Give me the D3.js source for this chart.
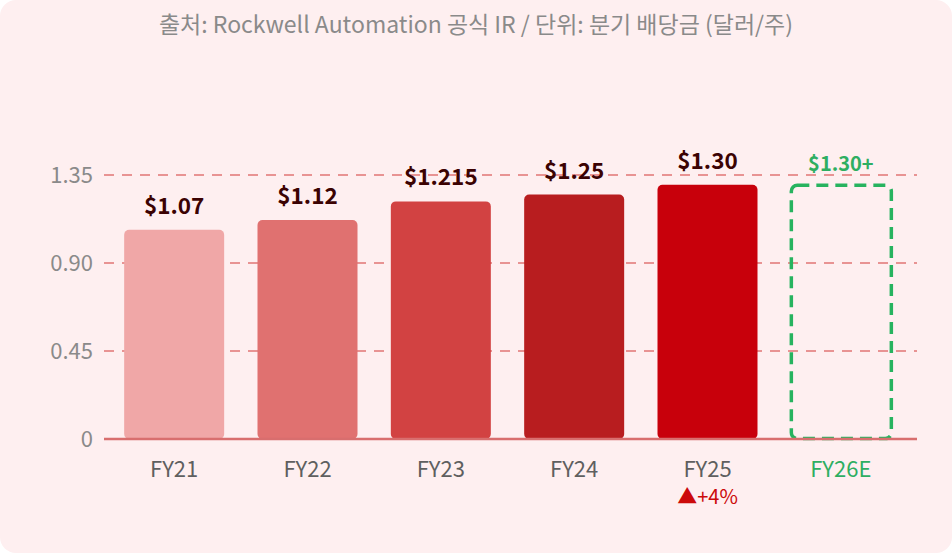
<!DOCTYPE html>
<html><head><meta charset="utf-8">
<script src="https://cdn.jsdelivr.net/npm/d3@7"></script>
<style>
html,body{margin:0;padding:0;background:#fff;}
svg{display:block;font-family:"Noto Sans CJK KR","Noto Sans",sans-serif;}
</style></head>
<body>
<svg id="c" width="952" height="553"></svg>
<script>
const categories = ["FY21","FY22","FY23","FY24","FY25","FY26E"];
const values = [1.07, 1.12, 1.215, 1.25, 1.30, 1.30];
const valueLabels = ["$1.07","$1.12","$1.215","$1.25","$1.30","$1.30+"];
const barColors = ["#f0a7a7","#e07170","#d24242","#b81d1f","#c8000b", null];
const yTicks = [0, 0.45, 0.90, 1.35];
const yTickLabels = ["0","0.45","0.90","1.35"];
const title = "출처: Rockwell Automation 공식 IR / 단위: 분기 배당금 (달러/주)";
const growthNote = "▲+4%";

const svg = d3.select("#c");
svg.append("rect").attr("x",0).attr("y",0).attr("width",952).attr("height",553)
  .attr("rx",16).attr("fill","#feeff0");

svg.append("text").attr("x",476).attr("y",33).attr("text-anchor","middle")
  .attr("font-size",23).attr("fill","#8a8a8a").text(title);

const x = d3.scaleBand().domain(categories).range([107.5,907.5]).paddingInner(0.25).paddingOuter(0.125);
const y = d3.scaleLinear().domain([0,1.35]).range([439,175]);

// grid
svg.append("g").selectAll("line").data(yTicks.filter(d=>d>0)).join("line")
  .attr("x1",104).attr("x2",917).attr("y1",d=>y(d)).attr("y2",d=>y(d))
  .attr("stroke","#e89393").attr("stroke-width",2).attr("stroke-dasharray","10,8");

// y labels
svg.append("g").selectAll("text").data(yTicks).join("text")
  .attr("x",93).attr("y",d=>y(d)).attr("dy","0.35em").attr("text-anchor","end")
  .attr("font-size",22).attr("fill","#8a8a8a").text((d,i)=>yTickLabels[i]);

// bars
const bw = x.bandwidth();
svg.append("g").selectAll("rect").data(values.slice(0,5)).join("rect")
  .attr("x",(d,i)=>x(categories[i])).attr("y",d=>y(d))
  .attr("width",bw).attr("height",d=>y(0)-y(d)).attr("rx",5)
  .attr("fill",(d,i)=>barColors[i]);

// dashed estimate bar
const ei = 5;
svg.append("rect").attr("x",x(categories[ei])+0.5).attr("y",y(values[ei])+0.5)
  .attr("width",bw).attr("height",y(0)-y(values[ei])-1).attr("rx",6)
  .attr("fill","none").attr("stroke","#27b35f").attr("stroke-width",3.5)
  .attr("stroke-dasharray","12,7");

// baseline
svg.append("line").attr("x1",104).attr("x2",917).attr("y1",y(0)).attr("y2",y(0))
  .attr("stroke","#d86e6e").attr("stroke-width",2.5);

// value labels
svg.append("g").selectAll("text").data(values).join("text")
  .attr("x",(d,i)=>x(categories[i])+bw/2).attr("y",(d,i)=>y(d)-(i===5?14:16))
  .attr("text-anchor","middle").attr("font-weight","bold")
  .attr("font-size",(d,i)=>i===5?20:22.5)
  .attr("fill",(d,i)=>i===5?"#2eae62":"#3b0202")
  .text((d,i)=>valueLabels[i]);

// x labels
svg.append("g").selectAll("text").data(categories).join("text")
  .attr("x",d=>x(d)+bw/2).attr("y",477).attr("text-anchor","middle")
  .attr("font-size",22).attr("fill",(d,i)=>i===5?"#2eae62":"#5f5f5f").text(d=>d);

svg.append("text").attr("x",x("FY25")+bw/2).attr("y",504).attr("text-anchor","middle")
  .attr("font-size",20).attr("fill","#cc0a0a").text(growthNote);
</script>
</body></html>
